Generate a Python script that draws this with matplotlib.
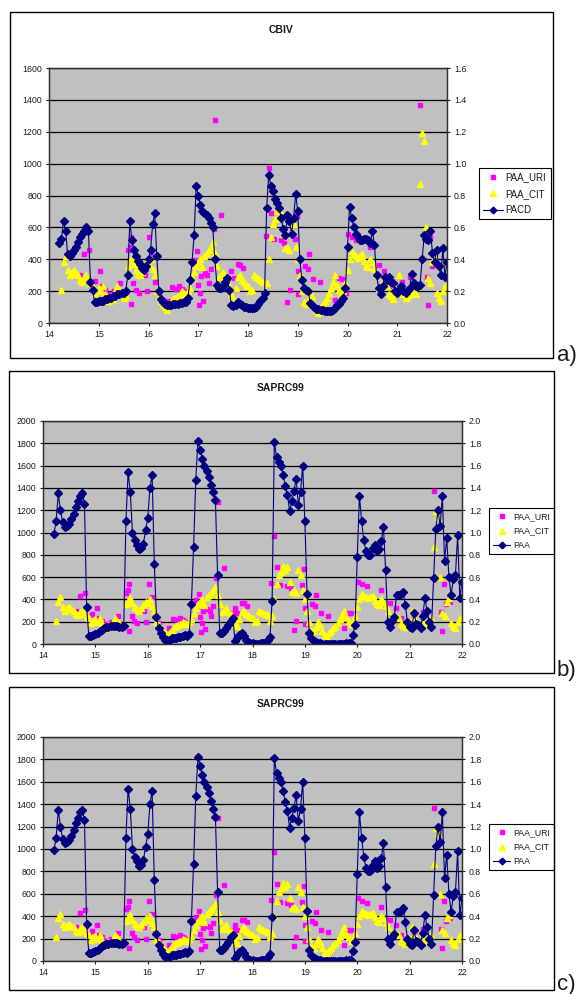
import numpy as np
import matplotlib
matplotlib.use("Agg")
from matplotlib import pyplot as plt
from matplotlib.lines import Line2D
from matplotlib.patches import Rectangle
from matplotlib.ticker import FormatStrFormatter

plt.rcParams['font.family'] = ['Liberation Sans', 'DejaVu Sans']

# hourly series start at day 14, hour 5
t_start = 14 + 5 / 24.0
t_step = 1 / 24.0

# model PACD (CBIV), ppm, right axis of panel a
pacd = [
    0.50, 0.53, 0.64, 0.58, 0.43, 0.42, 0.44, 0.46, 0.48, 0.51, 0.54, 0.56, 0.58, 0.60, 0.58, 0.26, 0.21, 0.13, 0.13,
    0.135, 0.14, 0.14, 0.15, 0.15, 0.16, 0.16, 0.17, 0.17, 0.18, 0.18, 0.19, 0.19, 0.20, 0.30, 0.64, 0.52, 0.46, 0.42, 0.39, 0.37, 0.345, 0.335, 0.36,
    0.40, 0.46, 0.62, 0.69, 0.42, 0.20, 0.15, 0.13, 0.12, 0.115, 0.115, 0.115, 0.12, 0.12, 0.12, 0.125, 0.125, 0.13, 0.13, 0.155, 0.27, 0.38, 0.55, 0.86,
    0.80, 0.74, 0.70, 0.69, 0.68, 0.66, 0.63, 0.60, 0.40, 0.24, 0.22, 0.22, 0.23, 0.26, 0.28, 0.21, 0.11, 0.105, 0.11, 0.13, 0.12, 0.11, 0.10, 0.10,
    0.095, 0.095, 0.095, 0.095, 0.10, 0.12, 0.14, 0.16, 0.19, 0.72, 0.93, 0.86, 0.83, 0.78, 0.75, 0.72, 0.66, 0.59, 0.55, 0.68, 0.64, 0.56, 0.66, 0.81,
    0.70, 0.40, 0.27, 0.22, 0.21, 0.20, 0.125, 0.11, 0.10, 0.09, 0.085, 0.08, 0.08, 0.075, 0.075, 0.075, 0.075, 0.08, 0.095, 0.11, 0.12, 0.135, 0.16, 0.22,
    0.48, 0.73, 0.66, 0.60, 0.56, 0.54, 0.52, 0.52, 0.53, 0.53, 0.52, 0.50, 0.58, 0.49, 0.30, 0.22, 0.18, 0.23, 0.29, 0.27, 0.29, 0.26, 0.25, 0.20,
    0.19, 0.21, 0.23, 0.20, 0.19, 0.21, 0.22, 0.31, 0.25, 0.23, 0.23, 0.24, 0.40, 0.55, 0.53, 0.52, 0.58, 0.44, 0.38, 0.46, 0.36, 0.30, 0.47, 0.29,
    0.38,
]

# model PAA (SAPRC99), ppm, right axis of panels b and c
paa = [
    0.99, 1.10, 1.35, 1.20, 1.09, 1.05, 1.06, 1.08, 1.12, 1.17, 1.23, 1.28, 1.33, 1.35, 1.26, 0.33, 0.07, 0.07, 0.08,
    0.09, 0.10, 0.12, 0.13, 0.14, 0.15, 0.155, 0.16, 0.16, 0.16, 0.16, 0.155, 0.155, 0.16, 1.10, 1.54, 1.36, 1.00, 0.93, 0.89, 0.85, 0.86, 0.90, 1.02,
    1.13, 1.40, 1.52, 0.72, 0.24, 0.14, 0.095, 0.06, 0.04, 0.035, 0.04, 0.05, 0.05, 0.055, 0.06, 0.065, 0.07, 0.08, 0.07, 0.09, 0.36, 0.87, 1.47, 1.82,
    1.74, 1.66, 1.60, 1.55, 1.50, 1.43, 1.36, 1.29, 0.62, 0.10, 0.10, 0.12, 0.14, 0.17, 0.21, 0.23, 0.03, 0.05, 0.08, 0.10, 0.07, 0.04, 0.02, 0.01,
    0.005, 0.0, 0.0, 0.0, 0.005, 0.01, 0.02, 0.04, 0.06, 0.39, 1.81, 1.68, 1.63, 1.60, 1.52, 1.42, 1.34, 1.19, 1.28, 1.37, 1.48, 1.25, 1.36, 1.60,
    1.10, 0.45, 0.10, 0.05, 0.03, 0.02, 0.01, 0.005, 0.0, 0.0, 0.0, 0.0, 0.0, 0.0, 0.0, 0.0, 0.0, 0.0, 0.0, 0.005, 0.01, 0.01, 0.085, 0.17,
    0.78, 1.33, 1.10, 0.93, 0.83, 0.80, 0.80, 0.86, 0.89, 0.83, 0.85, 0.92, 1.05, 0.66, 0.20, 0.15, 0.21, 0.24, 0.44, 0.44, 0.45, 0.47, 0.35, 0.20,
    0.15, 0.14, 0.28, 0.18, 0.17, 0.145, 0.25, 0.41, 0.30, 0.20, 0.15, 0.59, 1.03, 1.20, 1.06, 1.33, 0.74, 0.95, 0.60, 0.44, 0.58, 0.62, 0.98, 0.41,
    0.56,
]

# observed PAA (CIT), ppt, hourly, left axis
paa_cit = [
    np.nan, 210, 380, 420, 330, 300, 320, 330, 310, 300, 270, 260, 290, 300, 270, 250, 230, 190, 210,
    220, 200, 230, 180, 150, 140, 170, 150, 200, 230, 210, 190, 160, 170, 360, 390, 410, 370, 330, 310, 300, 320, 350, 380,
    370, 400, 340, 300, 200, 170, 140, 120, 100, 80, 110, 130, 150, 160, 170, 180, 200, 190, 180, 200, 220, 280, 320, 360,
    380, 400, 350, 420, 440, 460, 480, 510, 440, 360, 290, 300, 320, 290, 270, 230, 180, 160, 220, 290, 300, 270, 260, 240,
    230, 200, 210, 300, 290, 280, 270, 260, 210, 250, 400, 540, 620, 650, 700, 660, 690, 560, 470, 480, 460, 660, 620, 480,
    400, 300, 200, 130, 120, 150, 200, 170, 120, 80, 60, 100, 120, 140, 160, 190, 220, 260, 300, 240, 210, 180, 200, 250,
    330, 400, 450, 430, 420, 410, 420, 430, 390, 360, 350, 400, 380, 340, 300, 220, 240, 250, 240, 230, 180, 170, 150, 180,
    200, 300, 240, 180, 160, 170, 180, 200, 190, 180, 230, 870, 1190, 1140, 600, 280, 250, 380, 410, 190, 160, 140, 200, 230,
]

# observed PAA (URI), ppt, irregular sampling, left axis
uri_day = [
    14.63, 14.71, 14.81, 14.87, 14.93, 15.03, 15.06, 15.13, 15.22, 15.30, 15.43, 15.58, 15.62, 15.64, 15.65,
    15.69, 15.74, 15.80, 15.85, 15.93, 15.97, 16.02, 16.09, 16.14, 16.21, 16.40, 16.48, 16.55, 16.62, 16.68,
    16.74, 16.93, 16.97, 17.00, 17.02, 17.04, 17.06, 17.10, 17.14, 17.18, 17.21, 17.25, 17.31, 17.34, 17.45,
    17.60, 17.66, 17.71, 17.80, 17.83, 17.89, 18.36, 18.42, 18.47, 18.52, 18.66, 18.73, 18.79, 18.84, 18.94,
    18.99, 19.00, 19.01, 19.14, 19.20, 19.22, 19.31, 19.44, 19.74, 19.82, 19.88, 19.96, 20.01, 20.10, 20.18,
    20.45, 20.63, 20.74, 20.84, 21.09, 21.26, 21.46, 21.59, 21.61, 21.66, 21.70, 21.78,
]
uri_val = [
    300, 430, 455, 240, 265, 325, 230, 210, 180, 200, 250, 460, 480, 120, 540,
    250, 210, 190, 300, 300, 200, 540, 420, 260, 190, 140, 225, 215, 230, 215,
    200, 395, 450, 240, 110, 190, 295, 135, 315, 300, 250, 340, 590, 1275, 680,
    280, 325, 280, 370, 365, 345, 545, 970, 690, 530, 520, 500, 130, 210, 530,
    670, 325, 180, 355, 340, 435, 275, 255, 145, 280, 275, 190, 560, 540, 520,
    480, 365, 325, 230, 260, 290, 1370, 290, 115, 540, 355, 380,
]

W, H = 579.0, 994.0
fig = plt.figure(figsize=(W / 100, H / 100), dpi=100)
fig.patch.set_facecolor('white')

navy = '#000080'
magenta = '#FF00FF'
yellow = '#FFFF00'
ink = '#1a1a1a'


def px_rect(x0, y0, x1, y1):
    return [x0 / W, 1 - y1 / H, (x1 - x0) / W, (y1 - y0) / H]


def panel(plot_box, frame_box, title, title_y, model, model_name, ymax,
          label, label_y, legend_xy, legend_fs):
    fx0, fy0, fx1, fy1 = frame_box
    fig.patches.append(Rectangle((fx0 / W, 1 - fy1 / H), (fx1 - fx0) / W, (fy1 - fy0) / H,
                                 transform=fig.transFigure, fill=False,
                                 edgecolor='black', linewidth=1.0))
    fig.text(281 / W, 1 - title_y / H, title, ha='center', va='center',
             fontsize=7.5, fontweight='bold', color=ink)
    fig.text(557 / W, 1 - label_y / H, label, ha='left', va='baseline',
             fontsize=16, color=ink)

    ax = fig.add_axes(px_rect(*plot_box))
    ax.set_facecolor('#C0C0C0')
    ax.set_axisbelow(True)
    ax.set_xlim(14, 22)
    ax.set_ylim(0, ymax * 1000)
    ax.set_xticks(range(14, 23))
    ax.set_yticks(np.arange(0, ymax * 1000 + 1, 200))
    ax.yaxis.grid(True, color='black', linewidth=0.9)
    ax.tick_params(labelsize=6.3, colors=ink, length=2.5, width=0.8, pad=2.5)

    ax.plot(uri_day, uri_val, ls='none', marker='s', ms=3.5,
            color=magenta, mec=magenta)
    t_cit = t_start + t_step * np.arange(len(paa_cit))
    ax.plot(t_cit, paa_cit, ls='none', marker='^', ms=4.4,
            color=yellow, mec=yellow)

    ax2 = ax.twinx()
    ax2.set_ylim(0, ymax)
    ax2.set_yticks(np.arange(0, ymax + 0.001, 0.2))
    ax2.yaxis.set_major_formatter(FormatStrFormatter('%.1f'))
    ax2.tick_params(labelsize=6.3, colors=ink, length=2.5, width=0.8, pad=2.5)
    t_mod = t_start + t_step * np.arange(len(model))
    ax2.plot(t_mod, model, color=navy, lw=0.8, marker='D', ms=4.3, mec=navy)

    for a in (ax, ax2):
        for s in a.spines.values():
            s.set_color('#303030')
            s.set_linewidth(0.9)

    handles = [
        Line2D([], [], ls='none', marker='s', ms=3.4, color=magenta),
        Line2D([], [], ls='none', marker='^', ms=4.2, color=yellow),
        Line2D([], [], color=navy, lw=0.8, marker='D', ms=3.4),
    ]
    leg = ax2.legend(handles, ['PAA_URI', 'PAA_CIT', model_name],
                     loc='upper left', bbox_to_anchor=(legend_xy[0] / W, 1 - legend_xy[1] / H),
                     bbox_transform=fig.transFigure, fontsize=legend_fs,
                     frameon=True, fancybox=False, framealpha=1,
                     edgecolor='black', borderpad=0.45, labelspacing=0.65,
                     handlelength=2.0, handletextpad=0.3, borderaxespad=0)
    leg.get_frame().set_linewidth(0.8)
    for txt in leg.get_texts():
        txt.set_color(ink)


panel((49, 68, 447, 323), (10, 12, 553, 358), 'CBIV', 30, pacd, 'PACD', 1.6,
      'a)', 361, (479, 168), 7)
panel((43, 421, 462, 644), (9, 371, 554, 673), 'SAPRC99', 388, paa, 'PAA', 2.0,
      'b)', 676, (489, 508), 6.3)
panel((43, 737, 462, 961), (9, 687, 554, 990), 'SAPRC99', 704, paa, 'PAA', 2.0,
      'c)', 990, (489, 824), 6.3)

fig.savefig('out.png', dpi=100, facecolor='white')
